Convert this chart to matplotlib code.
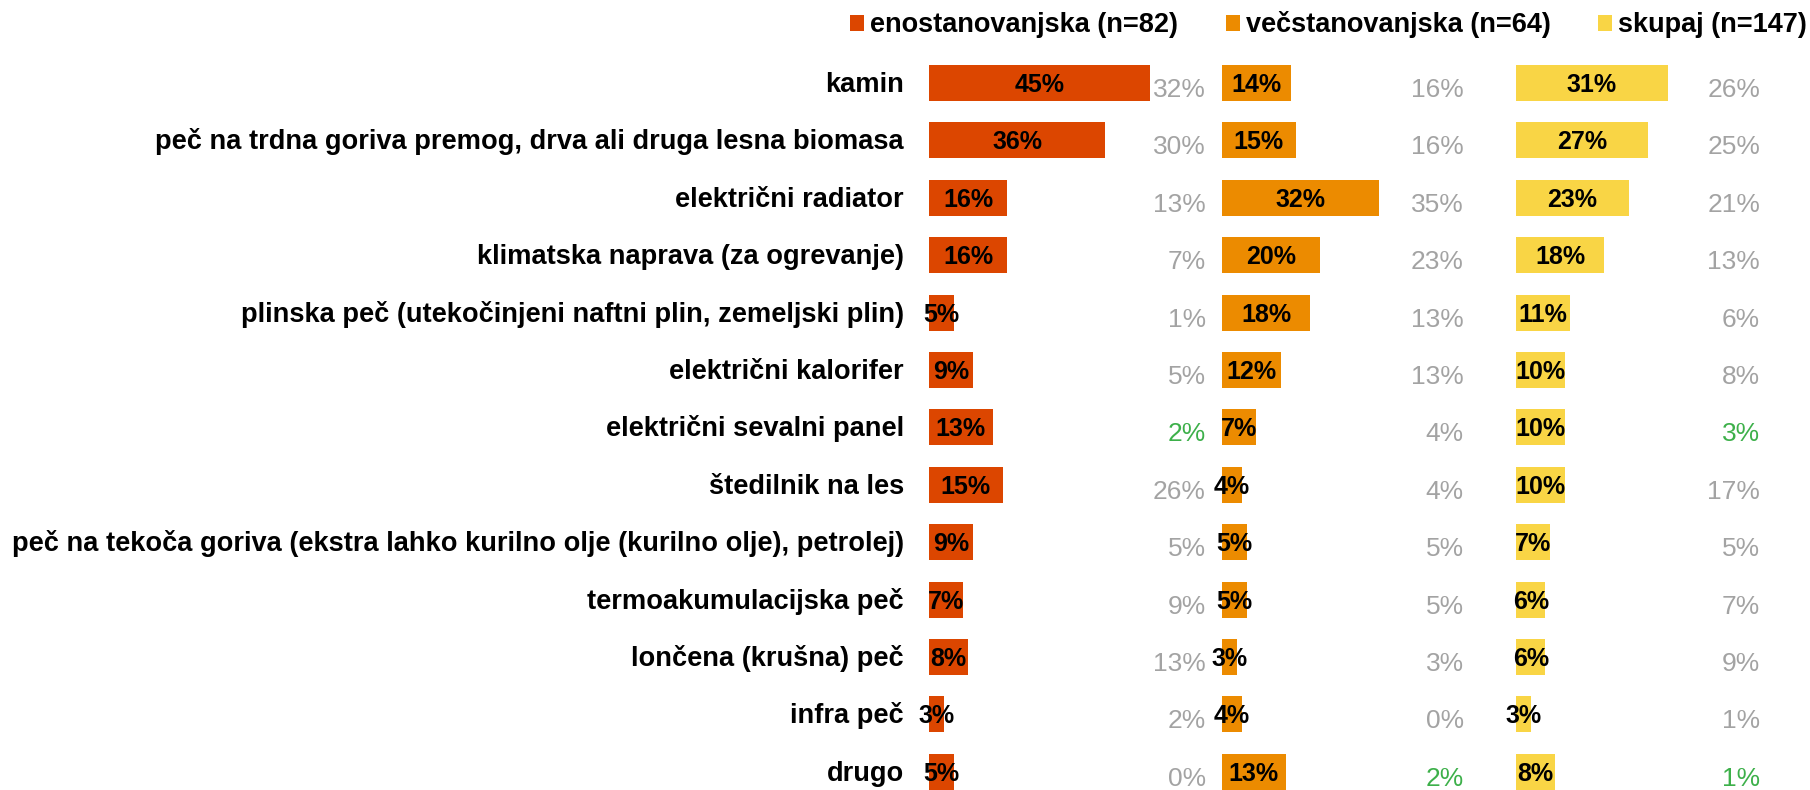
import matplotlib
matplotlib.use("Agg")
import matplotlib.pyplot as plt
import numpy as np

plt.rcParams['font.family'] = ['Liberation Sans', 'DejaVu Sans']

categories = [
    "kamin",
    "peč na trdna goriva premog, drva ali druga lesna biomasa",
    "električni radiator",
    "klimatska naprava (za ogrevanje)",
    "plinska peč (utekočinjeni naftni plin, zemeljski plin)",
    "električni kalorifer",
    "električni sevalni panel",
    "štedilnik na les",
    "peč na tekoča goriva (ekstra lahko kurilno olje (kurilno olje), petrolej)",
    "termoakumulacijska peč",
    "lončena (krušna) peč",
    "infra peč",
    "drugo",
]
series_names = ["enostanovanjska (n=82)", "večstanovanjska (n=64)", "skupaj (n=147)"]

eno = [45, 36, 16, 16, 5, 9, 13, 15, 9, 7, 8, 3, 5]
vec = [14, 15, 32, 20, 18, 12, 7, 4, 5, 5, 3, 4, 13]
skupaj = [31, 27, 23, 18, 11, 10, 10, 10, 7, 6, 6, 3, 8]

# comparison values shown in grey next to each panel
eno_prev = [32, 30, 13, 7, 1, 5, 2, 26, 5, 9, 13, 2, 0]
vec_prev = [16, 16, 35, 23, 13, 13, 4, 4, 5, 5, 3, 0, 2]
skupaj_prev = [26, 25, 21, 13, 6, 8, 3, 17, 5, 7, 9, 1, 1]

# comparison values highlighted in green
eno_hl = [6]
vec_hl = [12]
skupaj_hl = [6, 12]

colors = ["#DC4600", "#EC8B00", "#F9D545"]
GREY = "#A3A3A3"
GREEN = "#3DB04A"

W, H = 1810, 790
fig = plt.figure(figsize=(W / 100, H / 100), dpi=100)

px_per_pct = 4.9
xmax = 60
row_h = 57.4
n = len(categories)
top_px = 83 - row_h / 2
panel_left = [929, 1222, 1516]
grey_right = [1206, 1464, 1760]

values = [eno, vec, skupaj]
prevs = [eno_prev, vec_prev, skupaj_prev]
hls = [eno_hl, vec_hl, skupaj_hl]
y = np.arange(n)

# baseline offsets (in row units) so text sits like the original
base_off = 9 / row_h
grey_off = 14 / row_h

handles = []
for i in range(3):
    ax = fig.add_axes([panel_left[i] / W, (H - top_px - n * row_h) / H,
                       xmax * px_per_pct / W, n * row_h / H])
    ax.set_xlim(0, xmax)
    ax.set_ylim(n - 0.5, -0.5)
    ax.axis('off')
    bars = ax.barh(y, values[i], height=0.63, color=colors[i],
                   edgecolor='none', label=series_names[i])
    handles.append(bars)
    for yy, v in zip(y, values[i]):
        ax.text(v / 2, yy + base_off, f"{v}%", ha='center', va='baseline',
                fontsize=18, fontweight='bold', color='black')
    gx = (grey_right[i] - panel_left[i]) / px_per_pct
    for yy, p in zip(y, prevs[i]):
        c = GREEN if yy in hls[i] else GREY
        ax.text(gx, yy + grey_off, f"{p}%", ha='right', va='baseline',
                fontsize=19, color=c)
    if i == 0:
        for yy, lab in zip(y, categories):
            ax.text(-25 / px_per_pct, yy + base_off, lab, ha='right',
                    va='baseline', fontsize=19.6, fontweight='bold',
                    color='black')

fig.legend(handles=handles, labels=series_names, loc='center right',
           bbox_to_anchor=(1807 / W, 1 - 25 / H), ncol=3, frameon=False,
           prop={'size': 19.5, 'weight': 'bold'}, handlelength=0.52,
           handleheight=0.52, handletextpad=0.22, columnspacing=1.75,
           borderaxespad=0, borderpad=0)

fig.savefig("out.png", dpi=100, facecolor='white')
